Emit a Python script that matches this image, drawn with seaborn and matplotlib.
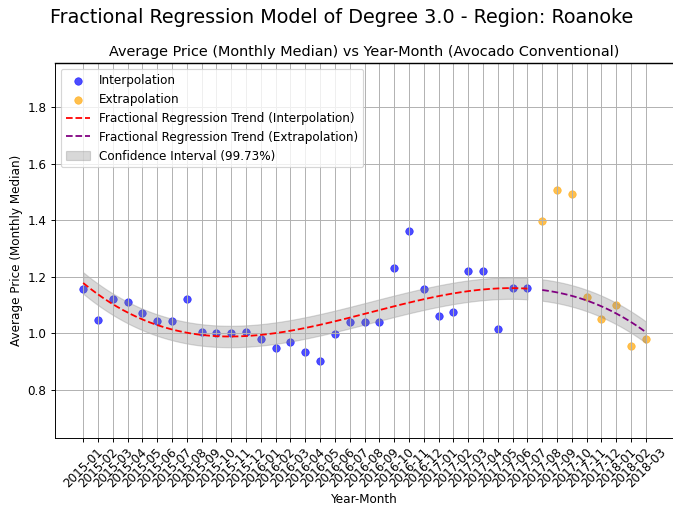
import numpy as np
import pandas as pd
import matplotlib
matplotlib.use("Agg")
import matplotlib.pyplot as plt
import seaborn as sns

# month labels
months = pd.period_range("2015-01", "2018-03", freq="M").strftime("%Y-%m").tolist()

# average price (monthly median)
interp_prices = [1.156, 1.045, 1.12, 1.11, 1.07, 1.042, 1.042, 1.12, 1.003, 1.0,
                 1.0, 1.003, 0.978, 0.946, 0.97, 0.932, 0.90, 0.996, 1.04, 1.04,
                 1.04, 1.23, 1.36, 1.155, 1.059, 1.074, 1.219, 1.219, 1.015, 1.16,
                 1.16]
extrap_prices = [1.397, 1.505, 1.493, 1.127, 1.049, 1.099, 0.954, 0.978]

degree = 3
ci_half = 0.038  # half width of the 99.73% band

n_in = len(interp_prices)
x_in = np.arange(n_in)
x_ex = np.arange(n_in, n_in + len(extrap_prices))

# cubic fit on the interpolation part
coef = np.polyfit(x_in, interp_prices, degree)
xs_in = np.linspace(x_in[0], x_in[-1], 200)
xs_ex = np.linspace(x_ex[0], x_ex[-1], 100)
trend_in = np.polyval(coef, xs_in)
trend_ex = np.polyval(coef, xs_ex)

dpi = 86
fig, ax = plt.subplots(figsize=(673 / dpi, 506 / dpi), dpi=dpi)
# the reference is cut off on the right, so the axes runs right to the edge
fig.subplots_adjust(left=55 / 673, right=1.0, top=1 - 63 / 506, bottom=1 - 437.5 / 506)

sns.scatterplot(x=x_in, y=interp_prices, color="blue", alpha=0.7, s=40,
                edgecolor=None, label="Interpolation", ax=ax)
sns.scatterplot(x=x_ex, y=extrap_prices, color="orange", alpha=0.7, s=40,
                edgecolor=None, label="Extrapolation", ax=ax)
sns.lineplot(x=xs_in, y=trend_in, color="red", linestyle="--",
             label="Fractional Regression Trend (Interpolation)", ax=ax)
sns.lineplot(x=xs_ex, y=trend_ex, color="purple", linestyle="--",
             label="Fractional Regression Trend (Extrapolation)", ax=ax)
ax.fill_between(xs_in, trend_in - ci_half, trend_in + ci_half, color="gray",
                alpha=0.3, label="Confidence Interval (99.73%)")
ax.fill_between(xs_ex, trend_ex - ci_half, trend_ex + ci_half, color="gray",
                alpha=0.3)

all_prices = interp_prices + extrap_prices
ax.set_ylim(min(all_prices) * 0.7, max(all_prices) * 1.3)
ax.set_xlim(-1.9, len(months) - 1 + 1.83)
ax.set_xticks(np.arange(len(months)))
ax.set_xticklabels(months, rotation=45)
ax.grid(True)
ax.spines["right"].set_visible(False)
ax.spines["top"].set_linewidth(1.2)
ax.spines["top"].set_zorder(5)
ax.set_xlabel("Year-Month", labelpad=2)
ax.set_ylabel("Average Price (Monthly Median)")
ax.set_title("Average Price (Monthly Median) vs Year-Month (Avocado Conventional)")
ax.legend(loc="upper left")
fig.suptitle("Fractional Regression Model of Degree 3.0 - Region: Roanoke",
             fontsize=16, x=341.5 / 673, y=1 - 8 / 506)

plt.savefig("out.png", dpi=dpi)
